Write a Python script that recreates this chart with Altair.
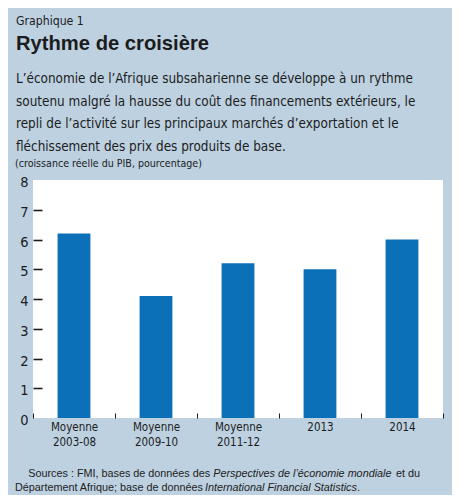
import altair as alt
import pandas as pd

# ---- data ----
categories = ["Moyenne 2003-08", "Moyenne 2009-10", "Moyenne 2011-12", "2013", "2014"]
growth = [6.2, 4.1, 5.2, 5.0, 6.0]
y_ticks = [0, 1, 2, 3, 4, 5, 6, 7, 8]

kicker = "Graphique 1"
title = "Rythme de croisière"
subtitle_lines = [
    "L’économie de l’Afrique subsaharienne se développe à un rythme",
    "soutenu malgré la hausse du coût des financements extérieurs, le",
    "repli de l’activité sur les principaux marchés d’exportation et le",
    "fléchissement des prix des produits de base.",
]
unit_label = "(croissance réelle du PIB, pourcentage)"
src1 = ["Sources : FMI, bases de données des ", "Perspectives de l’économie mondiale", "et du"]
src2 = ["Département Afrique; base de données ", "International Financial Statistics", "."]

BG = "#bdd1e1"
BAR = "#0b70b8"
INK = "#1c1c1c"
NARROW = "DejaVu Sans Condensed, Liberation Sans, sans-serif"
SANS = "Liberation Sans, Arial, sans-serif"
W, H = 410, 238

df = pd.DataFrame({"cat": categories, "val": growth})

bars = alt.Chart(df).mark_bar(color=BAR, width=alt.RelativeBandSize(0.4)).encode(
    x=alt.X(
        "cat:N",
        sort=categories,
        title=None,
        scale=alt.Scale(paddingInner=0, paddingOuter=0),
        axis=alt.Axis(
            domain=False,
            offset=-5,
            tickSize=5,
            tickBand="extent",
            tickColor=INK,
            tickWidth=1,
            labelAngle=0,
            labelPadding=3,
            labelFont=NARROW,
            labelFontSize=11.5,
            labelColor=INK,
            labelLineHeight=15,
            labelExpr="split(datum.label, ' ')",
        ),
    ),
    y=alt.Y(
        "val:Q",
        title=None,
        scale=alt.Scale(domain=[0, 8], nice=False),
        axis=alt.Axis(
            values=y_ticks,
            domain=False,
            grid=False,
            offset=-9,
            tickSize=9,
            tickWidth=1.6,
            tickColor=INK,
            tickOpacity={"condition": {"test": "datum.value == 0 || datum.value == 8", "value": 0}, "value": 1},
            labelPadding=5,
            labelOffset=2.5,
            labelFlush=False,
            labelFont=NARROW,
            labelFontSize=14.5,
            labelColor=INK,
        ),
    ),
)


def txt(s, x, y, size, font=NARROW, weight="normal", style="normal", line_height=None):
    kw = dict(align="left", baseline="alphabetic", font=font, fontSize=size,
              fontWeight=weight, fontStyle=style, color=INK)
    if line_height is not None:
        kw.update(lineBreak="\n", lineHeight=line_height)
    return alt.Chart(pd.DataFrame({"t": [s]})).mark_text(**kw).encode(
        text="t:N", x=alt.value(x), y=alt.value(y)
    )


layers = [
    bars,
    txt(kicker, -17, -155, 12.2),
    txt(title, -17, -130, 20.2, font=SANS, weight="bold"),
    txt("\n".join(subtitle_lines), -17, -97, 13.4, line_height=22.6),
    txt(unit_label, -18, -13, 10.6),
    txt(src1[0], -4.7, 297, 10.8, font=SANS),
    txt(src1[1], 180.2, 297, 10.8, font=SANS, style="italic"),
    txt(src1[2], 363, 297, 10.8, font=SANS),
    txt(src2[0], -18, 310.5, 10.8, font=SANS),
    txt(src2[1], 172, 310.5, 10.8, font=SANS, style="italic"),
    txt(src2[2], 324, 310.5, 10.8, font=SANS),
]

chart = alt.layer(*layers).properties(
    width=W,
    height=H,
    background=BG,
    autosize=alt.AutoSizeParams(type="none"),
    padding={"left": 25, "top": 172, "right": 9, "bottom": 77},
).configure_view(fill="white", strokeWidth=0)

chart.save("out.html", embed_options={"renderer": "svg", "actions": False})
